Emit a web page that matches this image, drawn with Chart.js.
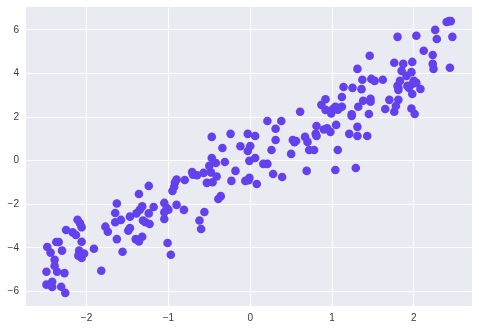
<!DOCTYPE html>
<html>
<head>
<meta charset="utf-8">
<script src="https://cdn.jsdelivr.net/npm/chart.js@4.4.1/dist/chart.umd.min.js"></script>
<style>
  html, body { margin: 0; padding: 0; background: #fff; }
  #wrap { width: 479px; height: 330px; }
</style>
</head>
<body>
<div id="wrap"><canvas id="scatterChart" width="479" height="330"></canvas></div>
<script>
// valores
const xValues = [
  -2.48, -2.44, -2.49, -2.39, -2.39, -2.37, -2.34, -2.36, -2.30, -2.27,
  -2.49, -2.44, -2.42, -2.42, -2.31, -2.26, -2.25, -2.17, -2.13, -2.11,
  -2.08, -2.06, -2.06, -2.09, -2.06, -2.10, -2.03, -2.06, -1.91, -1.82,
  -1.77, -1.74, -1.63, -1.65, -1.65, -1.58, -1.63, -1.56, -1.47, -1.47,
  -1.49, -1.39, -1.35, -1.32, -1.36, -1.24, -1.18, -1.24, -1.31, -1.28,
  -1.23, -1.40, -1.36, -1.32, -1.05, -1.02, -1.05, -1.00, -1.05, -0.90,
  -1.01, -0.97, -0.92, -0.93, -0.95, -0.90, -0.81, -0.80, -0.71, -0.70,
  -0.65, -0.57, -0.62, -0.60, -0.56, -0.53, -0.48, -0.50, -0.47, -0.46,
  -0.47, -0.42, -0.41, -0.39, -0.36, -0.34, -0.31, -0.24, -0.23, -0.18,
  -0.12, -0.06, -0.02, -0.01, -0.03, 0.00, -0.03, -0.01, 0.06, 0.06,
  0.08, 0.16, 0.21, 0.21, 0.26, 0.28, 0.31, 0.31, 0.38, 0.39,
  0.50, 0.52, 0.54, 0.56, 0.61, 0.67, 0.70, 0.69, 0.72, 0.78,
  0.81, 0.80, 0.81, 0.87, 0.92, 0.92, 0.90, 0.94, 0.98, 0.99,
  1.01, 1.04, 1.07, 1.09, 1.12, 1.05, 1.04, 1.07, 1.12, 1.14,
  1.21, 1.24, 1.24, 1.25, 1.29, 1.31, 1.31, 1.32, 1.31, 1.36,
  1.37, 1.38, 1.43, 1.45, 1.46, 1.47, 1.47, 1.48, 1.52, 1.62,
  1.65, 1.70, 1.76, 1.80, 1.76, 1.78, 1.81, 1.80, 1.81, 1.81,
  1.83, 1.85, 1.87, 1.91, 1.92, 1.94, 1.97, 1.98, 2.00, 2.03,
  1.98, 1.98, 1.97, 2.01, 2.03, 2.08, 2.12, 2.23, 2.23, 2.24,
  2.26, 2.28, 2.40, 2.43, 2.45, 2.47, 2.44
];
const yValues = [
  -3.96, -4.22, -5.10, -4.55, -4.83, -3.73, -3.73, -5.10, -4.13, -5.16,
  -5.69, -5.69, -5.56, -5.80, -5.79, -6.07, -3.18, -3.29, -3.41, -2.71,
  -2.87, -3.06, -3.72, -4.13, -4.28, -4.36, -4.26, -4.47, -4.04, -5.05,
  -3.03, -3.26, -1.97, -2.40, -2.83, -2.72, -3.60, -4.18, -2.57, -3.09,
  -3.21, -2.42, -2.26, -2.10, -1.53, -1.16, -2.13, -2.42, -2.75, -2.83,
  -2.91, -3.60, -3.71, -3.49, -1.94, -2.17, -2.37, -2.25, -2.68, -2.03,
  -3.78, -4.32, -1.00, -1.21, -1.39, -0.87, -2.26, -0.89, -0.52, -0.64,
  -0.67, -0.56, -2.75, -3.14, -2.36, -1.02, -0.54, -0.24, 0.12, -0.99,
  1.09, -0.11, -0.73, -1.76, -1.63, 0.58, -0.06, 1.23, -0.93, -0.47,
  0.66, -0.93, -0.90, -0.79, 1.23, 0.67, 0.44, -0.01, 1.13, 0.12,
  -1.07, -0.15, -0.15, 1.82, 0.49, -0.61, 1.46, 0.95, 1.82, -0.75,
  0.31, 0.95, 0.85, 0.90, 2.24, 1.09, 0.86, -0.47, 0.49, 0.49,
  1.59, 1.23, 1.13, 2.56, 2.33, 2.82, 1.43, 1.48, 1.32, 2.17,
  2.37, 2.47, 2.34, 2.42, 2.47, 1.64, -0.43, 0.49, 2.92, 3.38,
  1.23, 2.13, 2.05, 3.34, -0.34, 1.55, 1.13, 2.47, 4.21, 3.28,
  3.71, 2.75, 1.13, 2.14, 4.81, 2.84, 2.70, 3.75, 3.66, 3.71,
  2.37, 2.79, 4.49, 5.68, 2.24, 2.51, 2.79, 3.43, 3.34, 3.24,
  3.66, 4.12, 4.44, 3.89, 3.43, 3.34, 4.06, 4.53, 3.66, 3.57,
  3.52, 3.06, 2.39, 2.14, 5.73, 3.29, 5.04, 4.85, 4.44, 4.21,
  6.00, 5.58, 6.36, 6.40, 6.40, 5.68, 4.26
];
const xTicks = [-2, -1, 0, 1, 2];
const yTicks = [-6, -4, -2, 0, 2, 4, 6];

const pointColor = '#6441ee';
const textColor = '#3a3a3a';

// fondo gris del área del gráfico (estilo seaborn)
const plotBackground = {
    id: 'plotBackground',
    beforeDraw(chart) {
        const { ctx, chartArea } = chart;
        ctx.save();
        ctx.fillStyle = '#eaeaf2';
        ctx.fillRect(chartArea.left, chartArea.top,
            chartArea.right - chartArea.left, chartArea.bottom - chartArea.top);
        ctx.restore();
    }
};

const points = xValues.map((x, i) => ({ x: x, y: yValues[i] }));

const ctx = document.getElementById('scatterChart').getContext('2d');
new Chart(ctx, {
    type: 'scatter',
    data: {
        datasets: [{
            data: points,
            backgroundColor: pointColor,
            borderColor: pointColor,
            borderWidth: 0,
            pointRadius: 4.3,
            pointHoverRadius: 4.3
        }]
    },
    options: {
        responsive: false,
        animation: false,
        layout: { padding: { top: 7, right: 7, left: 0, bottom: 0 } },
        plugins: {
            legend: { display: false },
            tooltip: { enabled: false }
        },
        scales: {
            x: {
                type: 'linear',
                min: -2.74,
                max: 2.71,
                afterBuildTicks: scale => {
                    scale.ticks = xTicks.map(v => ({ value: v }));
                },
                afterFit: scale => { scale.height = 24; },
                border: { display: false },
                grid: { color: '#ffffff', lineWidth: 1, drawTicks: false },
                ticks: {
                    padding: 6,
                    color: textColor,
                    font: { family: 'Liberation Sans, Arial, sans-serif', size: 10 },
                    callback: v => String(v).replace('-', '\u2212')
                }
            },
            y: {
                type: 'linear',
                min: -6.67,
                max: 7.05,
                afterBuildTicks: scale => {
                    scale.ticks = yTicks.map(v => ({ value: v }));
                },
                afterFit: scale => {
                    scale.width = 26;
                    scale.paddingTop = 0;
                    scale.paddingBottom = 0;
                },
                border: { display: false },
                grid: { color: '#ffffff', lineWidth: 1, drawTicks: false },
                ticks: {
                    padding: 7,
                    color: textColor,
                    font: { family: 'Liberation Sans, Arial, sans-serif', size: 10 },
                    callback: v => String(v).replace('-', '\u2212')
                }
            }
        }
    },
    plugins: [plotBackground]
});
</script>
</body>
</html>
